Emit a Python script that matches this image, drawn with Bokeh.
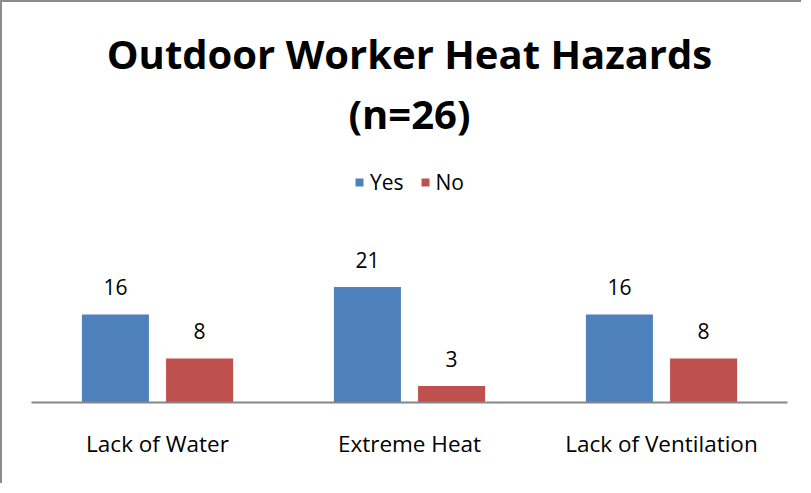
from bokeh.plotting import figure
from bokeh.models import FactorRange, Range1d, Title, ColumnDataSource
from bokeh.transform import dodge
from bokeh.core.properties import value
from bokeh.embed import file_html
from bokeh.resources import INLINE

categories = ["Lack of Water", "Extreme Heat", "Lack of Ventilation"]
series = ["Yes", "No"]
yes_values = [16, 21, 16]
no_values = [8, 3, 8]
title_lines = ["Outdoor Worker Heat Hazards", "(n=26)"]

BLUE = "#4F81BD"
RED = "#C0504D"
FONT = "Open Sans"

src = ColumnDataSource(dict(
    cat=categories,
    yes=yes_values,
    no=no_values,
    yes_lbl=[str(v) for v in yes_values],
    no_lbl=[str(v) for v in no_values],
))

p = figure(
    x_range=FactorRange(factors=categories, range_padding=0),
    y_range=Range1d(0, 43.6),
    width=801, height=483,
    output_backend="svg", toolbar_location=None,
    title=None,
    min_border_left=29, min_border_right=16,
    min_border_bottom=83, min_border_top=160,
)
p.styles = {"border-left": "2px solid #8c8c8c", "border-top": "2px solid #8c8c8c"}

p.vbar(x=dodge("cat", -0.167, range=p.x_range), top="yes", width=0.266,
       source=src, fill_color=BLUE, line_color=None, legend_label=series[0])
p.vbar(x=dodge("cat", 0.167, range=p.x_range), top="no", width=0.266,
       source=src, fill_color=RED, line_color=None, legend_label=series[1])

for col, off in (("yes", -0.167), ("no", 0.167)):
    p.text(x=dodge("cat", off, range=p.x_range), y=col, text=col + "_lbl", source=src,
           text_align="center", text_baseline="alphabetic", y_offset=-27,
           text_font=value(FONT), text_font_size="21px", text_color="black")

t = Title(text="\n".join(title_lines), align="center", text_align="center",
          vertical_align="top",
          text_font=FONT, text_font_size="40px",
          text_font_style="bold", text_color="black", standoff=38, text_line_height=1.1)
p.add_layout(t, "above")

leg = p.legend[0]
leg.location = "top_center"
leg.orientation = "horizontal"
leg.glyph_width = 10
leg.glyph_height = 10
leg.label_standoff = 6
leg.spacing = 16
leg.padding = 0
leg.margin = 6
leg.border_line_color = None
leg.background_fill_alpha = 0
leg.label_text_font = FONT
leg.label_text_font_size = "21px"
leg.label_text_color = "black"

p.xaxis.major_tick_line_color = None
p.xaxis.minor_tick_line_color = None
p.xaxis.axis_line_color = "#868686"
p.xaxis.axis_line_width = 2
p.xaxis.major_label_text_font = FONT
p.xaxis.major_label_text_font_size = "22.5px"
p.xaxis.major_label_text_color = "black"
p.xaxis.major_label_standoff = 19
p.yaxis.visible = False
p.xgrid.grid_line_color = None
p.ygrid.grid_line_color = None
p.outline_line_color = None

open("out.html", "w").write(file_html(p, INLINE))
